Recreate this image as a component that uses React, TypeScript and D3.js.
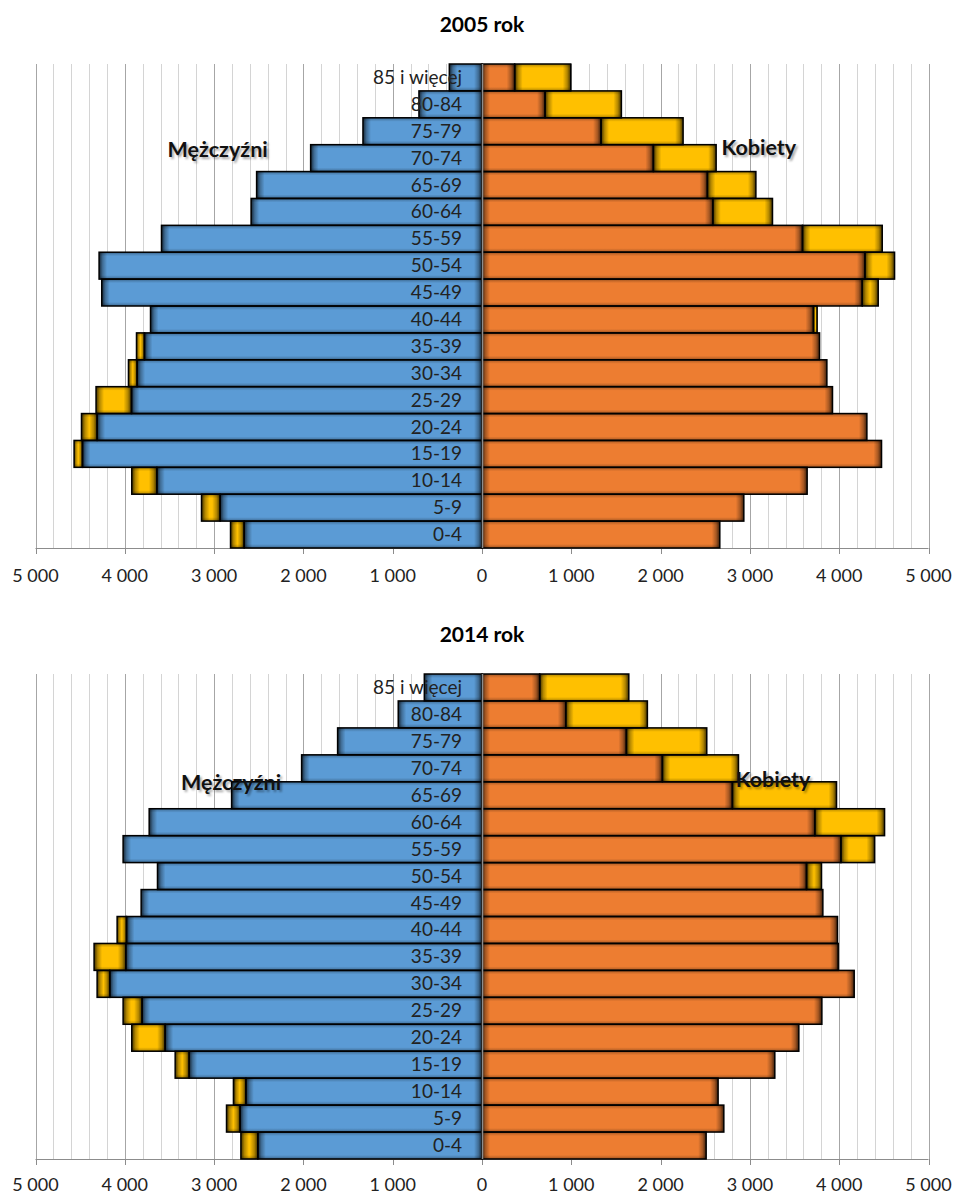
import { useEffect, useRef } from 'react';
import * as d3 from 'd3';

// age groups, top of the pyramid first
const ageGroups = [
  '85 i więcej', '80-84', '75-79', '70-74', '65-69', '60-64', '55-59', '50-54', '45-49',
  '40-44', '35-39', '30-34', '25-29', '20-24', '15-19', '10-14', '5-9', '0-4',
];

const men2005 = [366, 706, 1333, 1919, 2524, 2585, 3589, 4288, 4258, 3712, 3869, 3959, 4322, 4485, 4568, 3922, 3141, 2816];
const women2005 = [994, 1561, 2252, 2622, 3067, 3253, 4482, 4620, 4437, 3753, 3780, 3862, 3925, 4310, 4474, 3641, 2932, 2663];

const men2014 = [646, 938, 1617, 2020, 2804, 3727, 4019, 3634, 3817, 4086, 4344, 4310, 4019, 3922, 3436, 2782, 2861, 2700];
const women2014 = [1644, 1852, 2517, 2872, 3970, 4508, 4396, 3802, 3817, 3981, 3989, 4168, 3806, 3548, 3279, 2644, 2708, 2510];

const axisTicks = [-5000, -4000, -3000, -2000, -1000, 0, 1000, 2000, 3000, 4000, 5000];

const WIDTH = 954;
const HEIGHT = 1196;
const FONT = 'Lato, "Open Sans", sans-serif';

const BLUE = '#5b9bd5';
const ORANGE = '#ed7d31';
const YELLOW = '#ffc000';

interface Panel {
  title: string;
  men: number[];
  women: number[];
  titleY: number;
  top: number;
  bottom: number;
  tickOffset: number;
  menLabel: [number, number];
  womenLabel: [number, number];
}

const panels: Panel[] = [
  { title: '2005 rok', men: men2005, women: women2005, titleY: 32, top: 64, bottom: 548, tickOffset: 34, menLabel: [-2960, 93], womenLabel: [3100, 91] },
  { title: '2014 rok', men: men2014, women: women2014, titleY: 642, top: 674, bottom: 1159, tickOffset: 32, menLabel: [-2810, 116], womenLabel: [3260, 113] },
];

const App = () => {
  const svgRef = useRef<SVGSVGElement>(null);

  useEffect(() => {
    if (!svgRef.current) return;
    const svg = d3.select(svgRef.current);
    svg.selectAll('*').remove();

    const defs = svg.append('defs');

    // edge shading gradients (Excel style inner shadow on bars)
    const shade = (id: string, x1: number, y1: number, x2: number, y2: number, op: number) => {
      const lg = defs.append('linearGradient').attr('id', id)
        .attr('x1', x1).attr('y1', y1).attr('x2', x2).attr('y2', y2);
      lg.append('stop').attr('offset', 0).attr('stop-color', '#000').attr('stop-opacity', op);
      lg.append('stop').attr('offset', 0.45).attr('stop-color', '#000').attr('stop-opacity', op * 0.4);
      lg.append('stop').attr('offset', 1).attr('stop-color', '#000').attr('stop-opacity', 0);
    };
    shade('shadeL', 0, 0, 1, 0, 0.75);
    shade('shadeR', 1, 0, 0, 0, 0.75);
    shade('shadeT', 0, 0, 0, 1, 0.4);
    shade('shadeB', 0, 1, 0, 0, 0.4);

    const blur = defs.append('filter').attr('id', 'softBlur')
      .attr('x', '-20%').attr('y', '-40%').attr('width', '140%').attr('height', '180%');
    blur.append('feGaussianBlur').attr('stdDeviation', 1.2);

    const x = d3.scaleLinear().domain([-5000, 5000]).range([35.5, 928.5]);
    const px = (v: number) => Math.round(x(v)) + 0.5;
    const fmt = d3.formatLocale({ decimal: ',', thousands: ' ', grouping: [3], currency: ['', ''] }).format(',');

    panels.forEach(p => {
      const g = svg.append('g');
      const y = d3.scaleBand<string>().domain(ageGroups).range([p.top, p.bottom]).padding(0);
      const bw = y.bandwidth();

      // title
      g.append('text')
        .attr('x', x(0)).attr('y', p.titleY)
        .attr('text-anchor', 'middle')
        .attr('font-family', FONT).attr('font-weight', 700).attr('font-size', 21)
        .text(p.title);

      // vertical gridlines every 200
      const grid = d3.range(-5000, 5001, 200);
      g.append('g').selectAll('line').data(grid).join('line')
        .attr('x1', d => px(d)).attr('x2', d => px(d))
        .attr('y1', p.top).attr('y2', p.bottom)
        .attr('stroke', d => (d % 1000 === 0 ? '#a6a6a6' : '#d4d4d4'))
        .attr('stroke-width', 1);

      // bottom axis with ticks
      const ax = g.append('g');
      ax.append('line')
        .attr('x1', x(-5000)).attr('x2', x(5000))
        .attr('y1', Math.round(p.bottom) + 0.5).attr('y2', Math.round(p.bottom) + 0.5)
        .attr('stroke', '#8c8c8c');
      ax.selectAll('line.tick').data(axisTicks).join('line')
        .attr('class', 'tick')
        .attr('x1', d => px(d)).attr('x2', d => px(d))
        .attr('y1', p.bottom).attr('y2', p.bottom + 6)
        .attr('stroke', '#8c8c8c');
      ax.selectAll('text').data(axisTicks).join('text')
        .attr('x', d => x(d)).attr('y', p.bottom + p.tickOffset)
        .attr('text-anchor', 'middle')
        .attr('font-family', FONT).attr('font-size', 18).attr('fill', '#222')
        .text(d => fmt(Math.abs(d)));

      // bar segments: common part + surplus (yellow)
      type Seg = { cat: string; x0: number; x1: number; fill: string };
      const segs: Seg[] = [];
      ageGroups.forEach((cat, i) => {
        const m = p.men[i];
        const w = p.women[i];
        const common = Math.min(m, w);
        segs.push({ cat, x0: -common, x1: 0, fill: BLUE });
        if (m > common) segs.push({ cat, x0: -m, x1: -common, fill: YELLOW });
      });
      ageGroups.forEach((cat, i) => {
        const m = p.men[i];
        const w = p.women[i];
        const common = Math.min(m, w);
        segs.push({ cat, x0: 0, x1: common, fill: ORANGE });
        if (w > common) segs.push({ cat, x0: common, x1: w, fill: YELLOW });
      });

      const bars = g.append('g');
      const segX = (d: Seg) => x(d.x0);
      const segW = (d: Seg) => x(d.x1) - x(d.x0);
      const segY = (d: Seg) => y(d.cat) as number;

      bars.append('g').selectAll('rect').data(segs).join('rect')
        .attr('x', segX).attr('width', segW)
        .attr('y', segY).attr('height', bw)
        .attr('fill', d => d.fill);

      // shading along the edges
      const sh = bars.append('g');
      const endW = (d: Seg) => Math.min(8, segW(d) / 2);
      sh.selectAll('rect.l').data(segs).join('rect').attr('class', 'l')
        .attr('x', segX).attr('width', endW)
        .attr('y', segY).attr('height', bw)
        .attr('fill', 'url(#shadeL)');
      sh.selectAll('rect.r').data(segs).join('rect').attr('class', 'r')
        .attr('x', d => segX(d) + segW(d) - endW(d)).attr('width', endW)
        .attr('y', segY).attr('height', bw)
        .attr('fill', 'url(#shadeR)');
      sh.selectAll('rect.t').data(segs).join('rect').attr('class', 't')
        .attr('x', segX).attr('width', segW)
        .attr('y', segY).attr('height', 4)
        .attr('fill', 'url(#shadeT)');
      sh.selectAll('rect.b').data(segs).join('rect').attr('class', 'b')
        .attr('x', segX).attr('width', segW)
        .attr('y', d => segY(d) + bw - 4).attr('height', 4)
        .attr('fill', 'url(#shadeB)');

      bars.append('g').selectAll('rect').data(segs).join('rect')
        .attr('x', segX).attr('width', segW)
        .attr('y', segY).attr('height', bw)
        .attr('fill', 'none')
        .attr('stroke', '#000')
        .attr('stroke-width', 1.5);

      // vertical category axis at zero, drawn over the bars
      g.append('line')
        .attr('x1', px(0)).attr('x2', px(0))
        .attr('y1', p.top).attr('y2', p.bottom)
        .attr('stroke', '#8c8c8c').attr('stroke-width', 1.5);

      // category labels over the bars
      g.append('g').selectAll('text').data(ageGroups).join('text')
        .attr('x', x(0) - 20)
        .attr('y', d => (y(d) as number) + bw / 2 + 6.5)
        .attr('text-anchor', 'end')
        .attr('font-family', FONT).attr('font-size', 19).attr('fill', '#222')
        .text(d => d);

      // sex labels with a soft shadow
      const sexLabels = [
        { text: 'Mężczyźni', pos: p.menLabel },
        { text: 'Kobiety', pos: p.womenLabel },
      ];
      const lbl = g.append('g');
      lbl.selectAll('text.shadow').data(sexLabels).join('text')
        .attr('class', 'shadow')
        .attr('x', d => x(d.pos[0]) + 2)
        .attr('y', d => p.top + d.pos[1] + 2)
        .attr('text-anchor', 'middle')
        .attr('font-family', FONT).attr('font-weight', 700).attr('font-size', 21.5)
        .attr('fill', '#000').attr('fill-opacity', 0.35)
        .attr('filter', 'url(#softBlur)')
        .text(d => d.text);
      lbl.selectAll('text.main').data(sexLabels).join('text')
        .attr('class', 'main')
        .attr('x', d => x(d.pos[0]))
        .attr('y', d => p.top + d.pos[1])
        .attr('text-anchor', 'middle')
        .attr('font-family', FONT).attr('font-weight', 700).attr('font-size', 21.5)
        .attr('fill', '#111')
        .text(d => d.text);
    });
  }, []);

  return (
    <svg
      ref={svgRef}
      width={WIDTH}
      height={HEIGHT}
      style={{ position: 'absolute', left: 0, top: 0, background: '#fff' }}
    />
  );
};

export default App;
